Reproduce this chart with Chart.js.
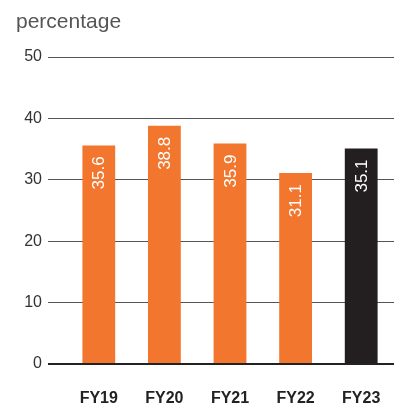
<!DOCTYPE html>
<html>
<head>
<meta charset="utf-8">
<script src="https://cdn.jsdelivr.net/npm/chart.js@4"></script>
<style>
html,body{margin:0;padding:0;background:#fff;overflow:hidden;}
#wrap{width:395px;height:403px;overflow:hidden;position:relative;}
canvas{display:block;}
</style>
</head>
<body>
<div id="wrap"><canvas id="c" width="395" height="410"></canvas></div>
<script>
const categories = ["FY19", "FY20", "FY21", "FY22", "FY23"];
const values = [35.6, 38.8, 35.9, 31.1, 35.1];
const barColors = ["#F2762E", "#F2762E", "#F2762E", "#F2762E", "#231F20"];
const yTicks = [0, 10, 20, 30, 40, 50];
const unitLabel = "percentage";

const FONT = "'Liberation Sans', Arial, Helvetica, sans-serif";

const labelPlugin = {
  id: 'barLabels',
  afterDatasetsDraw(chart) {
    const ctx = chart.ctx;
    const meta = chart.getDatasetMeta(0);
    meta.data.forEach((bar, i) => {
      ctx.save();
      ctx.translate(bar.x, bar.y + 11);
      ctx.rotate(-Math.PI / 2);
      ctx.font = "17px " + FONT;
      ctx.fillStyle = "#ffffff";
      ctx.textAlign = "right";
      ctx.textBaseline = "middle";
      ctx.fillText(values[i].toFixed(1), 0, 1);
      ctx.restore();
    });
  },
  afterDraw(chart) {
    const ctx = chart.ctx;
    ctx.save();
    ctx.font = "21px " + FONT;
    ctx.fillStyle = "#555555";
    ctx.textAlign = "left";
    ctx.textBaseline = "alphabetic";
    ctx.fillText(unitLabel, 16, 28);
    ctx.restore();
  }
};

new Chart(document.getElementById('c'), {
  type: 'bar',
  data: {
    labels: categories,
    datasets: [{
      data: values,
      backgroundColor: barColors,
      borderWidth: 0,
      barPercentage: 0.5,
      categoryPercentage: 1.0
    }]
  },
  options: {
    responsive: false,
    animation: false,
    events: [],
    layout: { padding: { top: 57, left: 23, right: 1, bottom: 3 } },
    plugins: { legend: { display: false }, tooltip: { enabled: false }, title: { display: false } },
    scales: {
      x: {
        offset: true,
        grid: { display: false, drawTicks: false },
        border: { display: false },
        afterFit(scale) { scale.paddingLeft = 0; scale.paddingRight = 0; scale.height = 43; },
        ticks: {
          padding: 25,
          color: "#222222",
          font: { family: FONT, size: 16, weight: 'bold' }
        }
      },
      y: {
        min: 0,
        max: 50,
        afterBuildTicks(scale) { scale.ticks = yTicks.map(v => ({ value: v })); },
        afterFit(scale) { scale.width = 43; scale.paddingTop = 0; scale.paddingBottom = 0; },
        grid: {
          drawTicks: true,
          tickLength: 18,
          color: ctx => ctx.tick && ctx.tick.value === 0 ? "#222222" : "#555555",
          lineWidth: ctx => ctx.tick && ctx.tick.value === 0 ? 2 : 1
        },
        border: { display: false },
        ticks: {
          padding: 6,
          color: "#333333",
          font: { family: FONT, size: 16 }
        }
      }
    }
  },
  plugins: [labelPlugin]
});
</script>
</body>
</html>
